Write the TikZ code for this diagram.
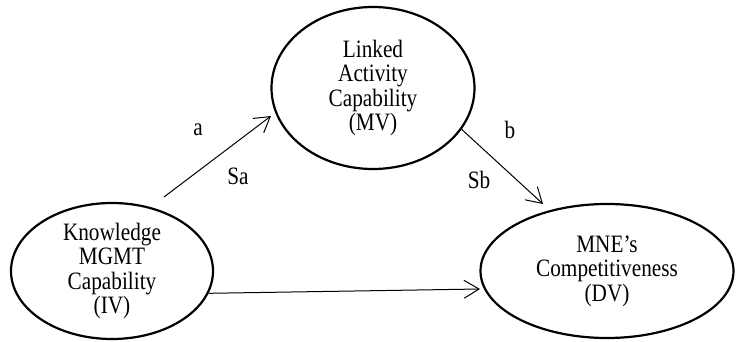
\documentclass[tikz,border=0pt]{standalone}
\usepackage{fontspec}
\setmainfont{Liberation Serif}[FakeStretch=0.85]
\usetikzlibrary{shapes.geometric}
\usetikzlibrary{arrows.meta}

\begin{document}
\begin{tikzpicture}[x=1pt,y=1pt,
		construct/.style={draw, ellipse, line width=2.2pt, inner sep=0pt, align=center, font=\fontsize{25}{24.5}\selectfont},
		link/.style={-{Straight Barb[length=15pt,width=18pt]}, line width=1pt},
		coef/.style={font=\fontsize{25}{24.5}\selectfont}]
					\useasboundingbox (0,0) rectangle (736,341);

					\node[construct, minimum width=203pt, minimum height=162pt] (mv) at (373,253) {Linked\\Activity\\Capability\\(MV)};
					\node[construct, minimum width=202pt, minimum height=136pt] (iv) at (112,70) {Knowledge\\MGMT\\Capability\\(IV)};
					\node[construct, minimum width=253pt, minimum height=134pt] (dv) at (607,70) {MNE’s\\Competitiveness\\(DV)};

					\node[coef] (a) at (198,211) {a};
					\node[coef] (sa) at (238,165) {Sa};
					\node[coef] (b) at (510,211) {b};
					\node[coef] (sb) at (479,161) {Sb};

					\coordinate (aTail) at (164,144);
					\coordinate (aHead) at (271,225);
					\coordinate (bHead) at (543,137);
					\coordinate (cHead) at (480,52);

					\draw[link] (aTail) -- (aHead);
					\draw[link] (mv.-25) -- (bHead);
					\draw[link] (iv.-13) -- (cHead);

				\end{tikzpicture}
\end{document}
